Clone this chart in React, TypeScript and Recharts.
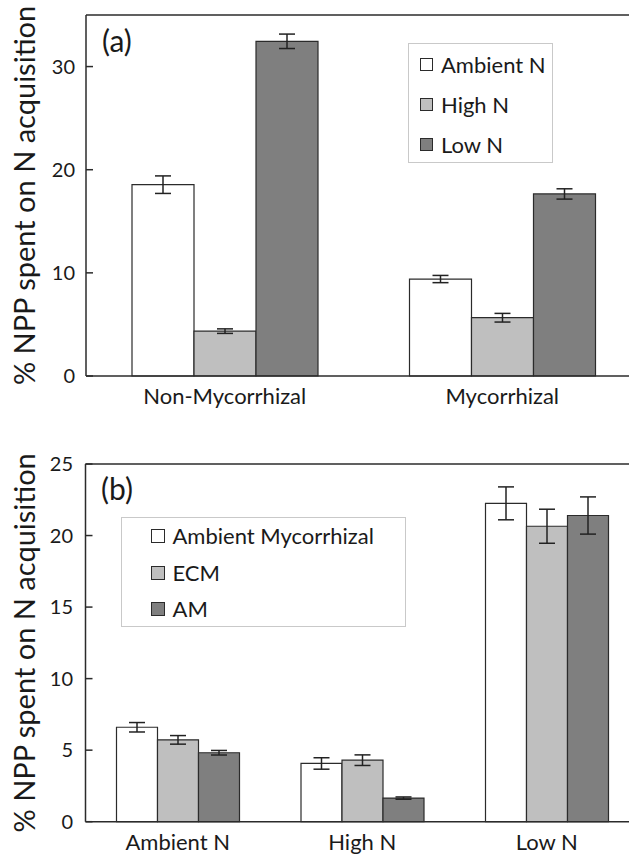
import { Bar, BarChart, ErrorBar, Legend, ReferenceLine, XAxis, YAxis } from "recharts";

const FONT = 'Lato, "Open Sans", sans-serif';

// panel (a)
const groupsA = ["Non-Mycorrhizal", "Mycorrhizal"];
const seriesA = ["Ambient N", "High N", "Low N"];
const ambientA = [18.55, 9.4];
const ambientAErr = [0.85, 0.35];
const highA = [4.35, 5.65];
const highAErr = [0.22, 0.42];
const lowA = [32.45, 17.65];
const lowAErr = [0.7, 0.5];
const ticksA = [0, 10, 20, 30];

// panel (b)
const groupsB = ["Ambient N", "High N", "Low N"];
const seriesB = ["Ambient Mycorrhizal", "ECM", "AM"];
const ambMycB = [6.6, 4.07, 22.25];
const ambMycBErr = [0.33, 0.4, 1.15];
const ecmB = [5.72, 4.3, 20.65];
const ecmBErr = [0.3, 0.37, 1.19];
const amB = [4.82, 1.65, 21.4];
const amBErr = [0.16, 0.08, 1.3];
const ticksB = [0, 5, 10, 15, 20, 25];

const dataA = groupsA.map((name, i) => ({
  name,
  ambient: ambientA[i],
  ambientErr: ambientAErr[i],
  high: highA[i],
  highErr: highAErr[i],
  low: lowA[i],
  lowErr: lowAErr[i],
}));

const dataB = groupsB.map((name, i) => ({
  name,
  ambMyc: ambMycB[i],
  ambMycErr: ambMycBErr[i],
  ecm: ecmB[i],
  ecmErr: ecmBErr[i],
  am: amB[i],
  amErr: amBErr[i],
}));

const WHITE = "#ffffff";
const LIGHT = "#bfbfbf";
const DARK = "#7f7f7f";
const EDGE = "#2b2b2b";

const yTitle = "% NPP spent on N acquisition";

const makeYTick = (gap: number) => (props: any) => {
  const { x, y, payload } = props;
  return (
    <g>
      <line x1={x + gap} x2={x + gap + 7} y1={y} y2={y} stroke={EDGE} strokeWidth={1.5} />
      <text x={x} y={y} dy="0.36em" textAnchor="end" fontSize={20} fill="#1a1a1a" fontFamily={FONT}>
        {payload.value}
      </text>
    </g>
  );
};

const makeLegend =
  (order: string[], w: number, h: number, padTop: number, rowGap: number, padLeft: number, sw: number) =>
  (props: any) => {
    const items = [...(props.payload || [])].sort(
      (a: any, b: any) => order.indexOf(a.value) - order.indexOf(b.value)
    );
    return (
      <div
        style={{
          width: w,
          height: h,
          boxSizing: "border-box",
          border: "1.5px solid #c9c9c9",
          background: "#fff",
          position: "relative",
          fontFamily: FONT,
        }}
      >
        {items.map((entry: any, i: number) => (
          <div
            key={entry.value}
            style={{
              position: "absolute",
              left: padLeft,
              top: padTop + i * rowGap - 14,
              height: 28,
              display: "flex",
              alignItems: "center",
              whiteSpace: "nowrap",
            }}
          >
            <span
              style={{
                display: "inline-block",
                width: sw,
                height: sw,
                boxSizing: "border-box",
                border: `1.5px solid ${EDGE}`,
                background: entry.color,
                marginRight: 8,
              }}
            />
            <span style={{ fontSize: 22, color: "#1a1a1a", lineHeight: "28px" }}>{entry.value}</span>
          </div>
        ))}
      </div>
    );
  };

const panelLabel = (text: string, left: number, top: number) => (
  <div
    style={{
      position: "absolute",
      left,
      top,
      fontSize: 30,
      lineHeight: "30px",
      fontFamily: FONT,
      color: "#1a1a1a",
    }}
  >
    {text}
  </div>
);

export default function App() {
  return (
    <div
      style={{
        position: "absolute",
        left: 0,
        top: 0,
        width: 629,
        height: 854,
        overflow: "hidden",
        background: "#fff",
        fontFamily: FONT,
      }}
    >
      <div style={{ position: "absolute", left: 0, top: 0 }}>
        <BarChart
          width={645}
          height={420}
          data={dataA}
          margin={{ top: 15, right: 4, bottom: 0, left: 0 }}
          barGap={0}
          barSize={62}
        >
          <XAxis
            dataKey="name"
            height={44}
            tickLine={false}
            tickSize={6}
            tickMargin={6}
            axisLine={{ stroke: EDGE, strokeWidth: 1.5 }}
            tick={{ fontSize: 22, fill: "#1a1a1a", fontFamily: FONT }}
          />
          <YAxis
            width={86}
            domain={[0, 35]}
            ticks={ticksA}
            tickLine={false}
            tickSize={0}
            tickMargin={11}
            axisLine={{ stroke: EDGE, strokeWidth: 1.5 }}
            tick={makeYTick(11)}
            label={{
              value: yTitle,
              angle: -90,
              position: "insideLeft",
              offset: 25,
              style: { textAnchor: "middle", fontSize: 29, fill: "#1a1a1a", fontFamily: FONT },
            }}
          />
          <ReferenceLine y={35} stroke={EDGE} strokeWidth={1.5} />
          <Bar dataKey="ambient" name={seriesA[0]} fill={WHITE} stroke={EDGE} strokeWidth={1.2} isAnimationActive={false}>
            <ErrorBar dataKey="ambientErr" width={8} stroke="#222" strokeWidth={1.5} />
          </Bar>
          <Bar dataKey="high" name={seriesA[1]} fill={LIGHT} stroke={EDGE} strokeWidth={1.2} isAnimationActive={false}>
            <ErrorBar dataKey="highErr" width={8} stroke="#222" strokeWidth={1.5} />
          </Bar>
          <Bar dataKey="low" name={seriesA[2]} fill={DARK} stroke={EDGE} strokeWidth={1.2} isAnimationActive={false}>
            <ErrorBar dataKey="lowErr" width={8} stroke="#222" strokeWidth={1.5} />
          </Bar>
          <Legend
            layout="vertical"
            align="center"
            verticalAlign="middle"
            content={makeLegend(seriesA, 145, 120, 20.6, 40, 11, 13)}
            wrapperStyle={{ position: "absolute", left: 408, top: 43, width: 145, height: 120 }}
          />
        </BarChart>
        {panelLabel("(a)", 102, 25)}
      </div>

      <div style={{ position: "absolute", left: 0, top: 430 }}>
        <BarChart
          width={645}
          height={424}
          data={dataB}
          margin={{ top: 34, right: 6, bottom: 0, left: 0 }}
          barGap={0}
          barSize={41}
        >
          <XAxis
            dataKey="name"
            height={32.3}
            tickLine={false}
            tickSize={6}
            tickMargin={7}
            axisLine={{ stroke: EDGE, strokeWidth: 1.5 }}
            tick={{ fontSize: 22, fill: "#1a1a1a", fontFamily: FONT }}
          />
          <YAxis
            width={85.5}
            domain={[0, 25]}
            ticks={ticksB}
            tickLine={false}
            tickSize={0}
            tickMargin={12.5}
            axisLine={{ stroke: EDGE, strokeWidth: 1.5 }}
            tick={makeYTick(12.5)}
            label={{
              value: yTitle,
              angle: -90,
              position: "insideLeft",
              offset: 25,
              style: { textAnchor: "middle", fontSize: 29, fill: "#1a1a1a", fontFamily: FONT },
            }}
          />
          <ReferenceLine y={25} stroke={EDGE} strokeWidth={1.5} />
          <Bar dataKey="ambMyc" name={seriesB[0]} fill={WHITE} stroke={EDGE} strokeWidth={1.2} isAnimationActive={false}>
            <ErrorBar dataKey="ambMycErr" width={8} stroke="#222" strokeWidth={1.5} />
          </Bar>
          <Bar dataKey="ecm" name={seriesB[1]} fill={LIGHT} stroke={EDGE} strokeWidth={1.2} isAnimationActive={false}>
            <ErrorBar dataKey="ecmErr" width={8} stroke="#222" strokeWidth={1.5} />
          </Bar>
          <Bar dataKey="am" name={seriesB[2]} fill={DARK} stroke={EDGE} strokeWidth={1.2} isAnimationActive={false}>
            <ErrorBar dataKey="amErr" width={8} stroke="#222" strokeWidth={1.5} />
          </Bar>
          <Legend
            layout="vertical"
            align="center"
            verticalAlign="middle"
            content={makeLegend(seriesB, 285, 110, 17.7, 36.7, 29, 14)}
            wrapperStyle={{ position: "absolute", left: 120.5, top: 87.3, width: 285, height: 110 }}
          />
        </BarChart>
        {panelLabel("(b)", 101, 43)}
      </div>
    </div>
  );
}
